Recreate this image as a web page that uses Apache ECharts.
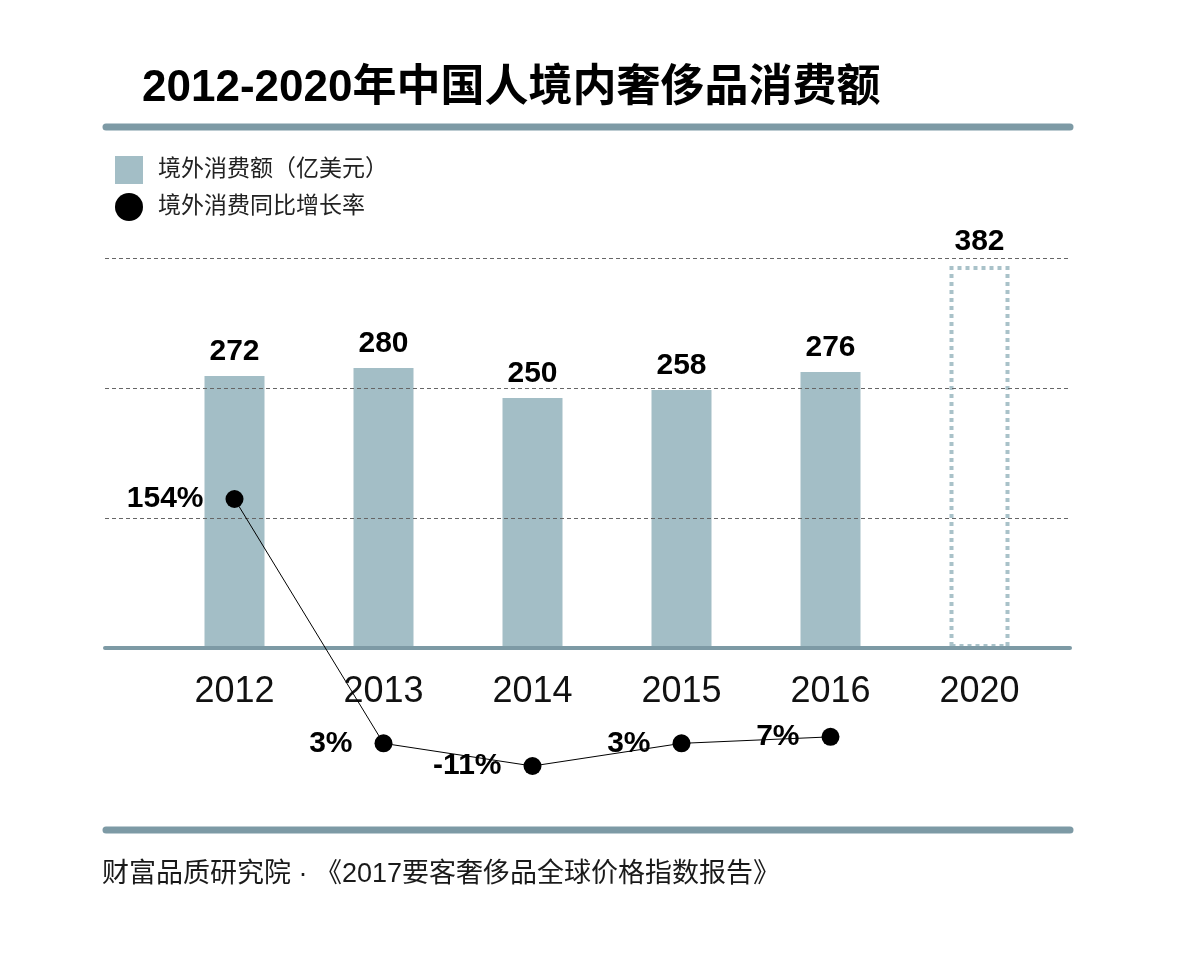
<!DOCTYPE html>
<html>
<head>
<meta charset="utf-8">
<script src="https://cdn.jsdelivr.net/npm/echarts@6/dist/echarts.min.js"></script>
<style>
  html, body { margin: 0; padding: 0; background: #fff; }
  #chart { width: 1180px; height: 962px; }
</style>
</head>
<body>
<div id="chart"></div>
<script>
// ---- data ----
const years = ['2012', '2013', '2014', '2015', '2016', '2020'];
const spending = [272, 280, 250, 258, 276, 382];          // 境外消费额（亿美元）
const growthYears = ['2012', '2013', '2014', '2015', '2016'];
const growth = [154, 3, -11, 3, 7];                         // 境外消费同比增长率 (%)
const spendTicks = { min: 0, max: 390, interval: 130 };
const projectedYear = '2020';

const titleText = '2012-2020年中国人境内奢侈品消费额';
const sourceText = '财富品质研究院 · 《2017要客奢侈品全球价格指数报告》';
const barName = '境外消费额（亿美元）';
const lineName = '境外消费同比增长率';

const CJK = '"Liberation Sans", "Noto Sans CJK SC", sans-serif';
const BOLDNUM = '"Liberation Sans", "Noto Sans", sans-serif';
const BAR_COLOR = '#a3bec6';
const RULE_COLOR = '#7d9aa5';

const chart = echarts.init(document.getElementById('chart'), null, { renderer: 'canvas' });

const barData = spending.map((v, i) => {
  if (years[i] === projectedYear) {
    return {
      value: v,
      itemStyle: {
        color: 'rgba(255,255,255,0)',
        borderColor: '#a9c2c9',
        borderWidth: 4,
        borderType: [4, 4]
      }
    };
  }
  return v;
});

// growth series aligned to the shared year categories (no value for 2020)
const growthData = years.map(y => {
  const k = growthYears.indexOf(y);
  return k >= 0 ? growth[k] : '-';
});

const gridLeft = 160, gridRight = 126;

chart.setOption({
  backgroundColor: '#fff',
  animation: false,
  title: [
    {
      text: titleText,
      left: 142, top: 67, padding: 0,
      textStyle: { fontFamily: CJK, fontSize: 44, fontWeight: 'bold', color: '#000' }
    },
    {
      text: sourceText,
      left: 102, top: 861, padding: 0,
      textStyle: { fontFamily: CJK, fontSize: 27, fontWeight: 'normal', color: '#1a1a1a' }
    }
  ],
  legend: {
    orient: 'vertical',
    left: 110, top: 151,
    itemWidth: 28, itemHeight: 28, itemGap: 9,
    selectedMode: false,
    data: [
      { name: barName, icon: 'rect' },
      { name: lineName, icon: 'circle' }
    ],
    textStyle: { fontFamily: CJK, fontSize: 23, color: '#222', padding: [0, 0, 0, 10] }
  },
  graphic: [
    { type: 'line', shape: { x1: 106, y1: 127, x2: 1070, y2: 127 },
      style: { stroke: RULE_COLOR, lineWidth: 7, lineCap: 'round' }, z: 10 },
    { type: 'line', shape: { x1: 106, y1: 830, x2: 1070, y2: 830 },
      style: { stroke: RULE_COLOR, lineWidth: 7, lineCap: 'round' }, z: 10 }
  ],
  grid: [
    { left: 105, right: 110, top: 258, bottom: 314 },
    { left: gridLeft, right: gridRight, top: 258, bottom: 314 },
    { left: gridLeft, right: gridRight, top: 499, bottom: 196 }
  ],
  xAxis: [
    { gridIndex: 0, type: 'category', data: [''], z: 5,
      axisLine: { show: true, lineStyle: { color: RULE_COLOR, width: 4, cap: 'round' } },
      axisTick: { show: false }, axisLabel: { show: false }, splitLine: { show: false } },
    { gridIndex: 1, type: 'category', data: years,
      axisLine: { show: false }, axisTick: { show: false },
      axisLabel: { fontFamily: CJK, fontSize: 36, color: '#111', margin: 26 } },
    { gridIndex: 2, type: 'category', data: years, show: false }
  ],
  yAxis: [
    { gridIndex: 0, type: 'value', min: spendTicks.min, max: spendTicks.max, interval: spendTicks.interval, z: 5,
      axisLine: { show: false }, axisTick: { show: false }, axisLabel: { show: false },
      splitLine: { show: true, lineStyle: { color: '#666', width: 1, type: [4, 3] } } },
    { gridIndex: 1, type: 'value', min: spendTicks.min, max: spendTicks.max, show: false, splitLine: { show: false } },
    { gridIndex: 2, type: 'value', min: Math.min(...growth), max: Math.max(...growth), show: false, splitLine: { show: false } }
  ],
  series: [
    {
      name: barName, type: 'bar', xAxisIndex: 1, yAxisIndex: 1,
      data: barData, barWidth: 60, z: 2,
      itemStyle: { color: BAR_COLOR },
      label: { show: true, position: 'top', distance: 9,
        fontFamily: BOLDNUM, fontWeight: 'bold', fontSize: 30, color: '#000' }
    },
    {
      name: lineName, type: 'line', xAxisIndex: 2, yAxisIndex: 2,
      data: growthData, z: 8,
      symbol: 'circle', symbolSize: 18,
      itemStyle: { color: '#000' },
      lineStyle: { color: '#000', width: 1 },
      label: { show: true, position: 'left', distance: 22,
        formatter: '{c}%',
        fontFamily: BOLDNUM, fontWeight: 'bold', fontSize: 30, color: '#000' }
    }
  ]
});
</script>
</body>
</html>
